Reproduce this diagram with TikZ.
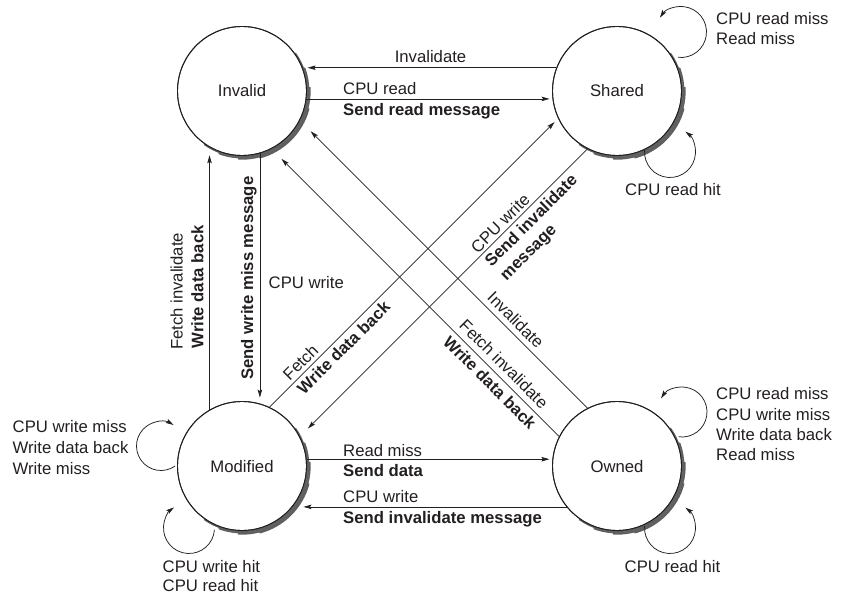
\documentclass[tikz,border=0pt]{standalone}
\usepackage{fontspec}
\setmainfont{Liberation Sans}
\usetikzlibrary{arrows.meta,calc}
\definecolor{ink}{RGB}{35,31,32}
\definecolor{shadowgray}{RGB}{95,95,95}
\begin{document}
\begin{tikzpicture}[x=1pt,y=1pt,
  font=\fontsize{16.7}{20}\selectfont,
  every node/.style={text=ink},
  state/.style={circle, draw=ink, line width=0.9pt, fill=white,
    minimum size=129pt, inner sep=0pt, text height=12pt, text depth=0pt},
  rim/.style={draw=ink, line width=0.9pt},
  crescent/.style={draw=shadowgray, line width=1.6pt, line cap=round},
  link/.style={draw=ink, line width=0.75pt, -{Stealth[length=8pt,width=4.5pt,inset=1.5pt]}},
  lbl/.style={inner sep=0pt, anchor=base west},
  cmd/.style={lbl, font=\fontsize{16.7}{20}\selectfont\bfseries},
]
\useasboundingbox (0,0) rectangle (848,-599);

% states
\node[state] (inv) at (242,-91)  {Invalid};
\node[state] (sh)  at (617,-91)  {Shared};
\node[state] (mod) at (242,-466) {Modified};
\node[state] (own) at (617,-466) {Owned};

% shadow on the lower right of each state, as a tapering stack of arcs
\foreach \s in {inv,sh,mod,own}
  \draw[crescent] (\s.center) ++(-125:65.3pt) arc[start angle=-125, end angle=35, radius=65.3pt];
\foreach \s in {inv,sh,mod,own}
  \draw[crescent] (\s.center) ++(-110:66.6pt) arc[start angle=-110, end angle=20, radius=66.6pt];
\foreach \s in {inv,sh,mod,own}
  \draw[crescent] (\s.center) ++(-93:67.9pt) arc[start angle=-93, end angle=3, radius=67.9pt];
\foreach \s in {inv,sh,mod,own}
  \draw[crescent] (\s.center) ++(-75:69pt) arc[start angle=-75, end angle=-15, radius=69pt];
\foreach \s in {inv,sh,mod,own}
  \draw[rim] (\s.center) circle[radius=64.5pt];

% transitions between states
\draw[link] (sh.159) -- ([xshift=5pt]inv.21);
\draw[link] (inv.-7) -- ([xshift=-3pt]sh.187);
\draw[link] (mod.120) -- ([yshift=-8pt]inv.240);
\draw[link] (inv.-74) -- ([yshift=6pt]mod.74);
\draw[link] (mod.65) -- ([shift={(-3.6pt,-3.6pt)}]sh.205);
\draw[link] (sh.243) -- ([shift={(8pt,8pt)}]mod.27);
\draw[link] (own.117.5) -- ([shift={(10.8pt,-10.8pt)}]inv.-27.5);
\draw[link] (own.153.3) -- ([shift={(10pt,-10pt)}]inv.-63.3);
\draw[link] (mod.6) -- ([xshift=-3pt]own.174);
\draw[link] (own.219.5) -- ([xshift=11pt]mod.-39.5);

% self loops
\draw[link] ($(sh.center)+(64,59)+(263:25.5pt)$) arc[start angle=263, end angle=506, radius=25.5pt];
\draw[link] ($(sh.center)+(53,-61)+(176:25.5pt)$) arc[start angle=176, end angle=413, radius=25.5pt];
\draw[link] ($(own.center)+(65,54)+(262:25pt)$) arc[start angle=262, end angle=507, radius=25pt];
\draw[link] ($(own.center)+(53,-62)+(176:25.5pt)$) arc[start angle=176, end angle=413, radius=25.5pt];
\draw[link] ($(mod.center)+(-81,20)+(305:24.5pt)$) arc[start angle=305, end angle=59, radius=24.5pt];
\draw[link] ($(mod.center)+(-53,-62)+(356:25.5pt)$) arc[start angle=356, end angle=126, radius=25.5pt];

% Invalid <-> Shared
\node[lbl, anchor=base] (tInvalidate) at (430.5,-63) {Invalidate};
\node[lbl] (tCpuRead) at (343,-94.3) {CPU read};
\node[cmd] (tSendRead) at (343,-116) {Send read message};

% Shared loops
\node[lbl] (tShMiss1) at (716,-25) {CPU read miss};
\node[lbl] (tShMiss2) at (716,-45) {Read miss};
\node[lbl, anchor=base] (tShHit) at (673,-195) {CPU read hit};

% Invalid <-> Modified
\node[lbl, rotate=90] (tFetchInv) at (182.7,-350) {Fetch invalidate};
\node[cmd, rotate=90] (tWbA) at (203.3,-348.5) {Write data back};
\node[cmd, rotate=90] (tSendWM) at (253,-380) {Send write miss message};
\node[lbl] (tCpuWriteA) at (268.5,-288.3) {CPU write};

% Modified <-> Shared
\node[lbl, rotate=45] (tFetch) at (289.75,-381.25) {Fetch};
\node[cmd, rotate=45] (tWbB) at (304,-395.5) {Write data back};
\node[lbl, rotate=45] (tCpuWriteB) at (477.65,-254.15) {CPU write};
\node[cmd, rotate=45] (tSendInvA) at (491.45,-267.95) {Send invalidate};
\node[cmd, rotate=45] (tSendInvB) at (506.5,-281.5) {message};

% Owned -> Invalid
\node[lbl, rotate=-45] (tInvalidateB) at (486.15,-298.85) {Invalidate};
\node[lbl, rotate=-45] (tFetchInvB) at (458.25,-326.75) {Fetch invalidate};
\node[cmd, rotate=-45] (tWbC) at (442,-343) {Write data back};

% Modified <-> Owned
\node[lbl] (tReadMiss) at (343,-456) {Read miss};
\node[cmd] (tSendData) at (343,-476.7) {Send data};
\node[lbl] (tCpuWriteC) at (343,-502.7) {CPU write};
\node[cmd] (tSendInvC) at (343,-523) {Send invalidate message};

% Modified loops
\node[lbl] (tModA) at (12.5,-432.3) {CPU write miss};
\node[lbl] (tModB) at (12.5,-453.3) {Write data back};
\node[lbl] (tModC) at (12.5,-474) {Write miss};
\node[lbl] (tModHitA) at (162.5,-572.3) {CPU write hit};
\node[lbl] (tModHitB) at (162.5,-591.7) {CPU read hit};

% Owned loops
\node[lbl] (tOwnA) at (716,-399.3) {CPU read miss};
\node[lbl] (tOwnB) at (716,-420) {CPU write miss};
\node[lbl] (tOwnC) at (716,-440.7) {Write data back};
\node[lbl] (tOwnD) at (716,-460) {Read miss};
\node[lbl, anchor=base] (tOwnHit) at (672.5,-572.3) {CPU read hit};
\end{tikzpicture}
\end{document}
